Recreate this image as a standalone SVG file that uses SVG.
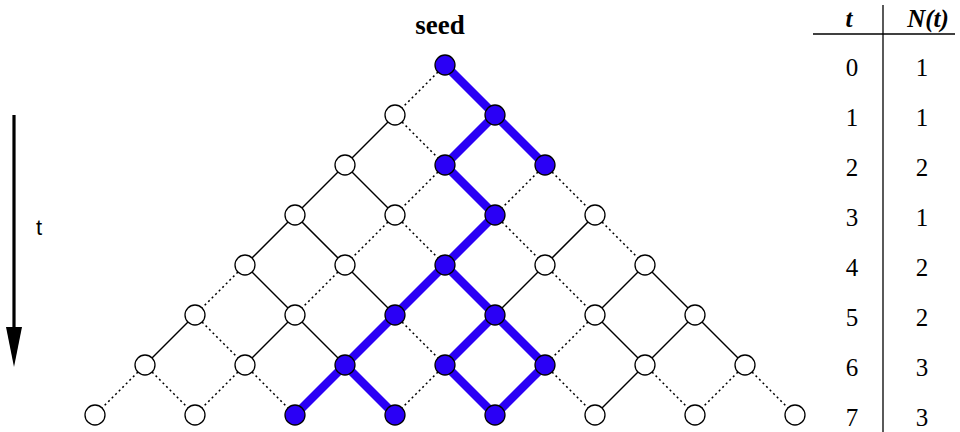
<svg xmlns="http://www.w3.org/2000/svg" width="960" height="432" viewBox="0 0 960 432">
<style>
.s{stroke:#000;stroke-width:1.5;fill:none}
.d{stroke:#000;stroke-width:1.5;stroke-dasharray:2,3;fill:none}
.b{stroke:#2a00f5;stroke-width:8.5;fill:none;stroke-linecap:round}
.w{fill:#fff;stroke:#000;stroke-width:1.3}
.f{fill:#2a00f5;stroke:#000;stroke-width:1.3}
.tx{font-family:"Liberation Serif",serif;font-size:25px;text-anchor:middle;fill:#000}
.hd{font-family:"Liberation Serif",serif;font-size:25px;font-weight:bold;font-style:italic;text-anchor:middle;fill:#000}
</style>
<rect width="960" height="432" fill="#fff"/>
<g id="connectors">
<line class="d" x1="445" y1="65" x2="395" y2="115"/>
<line class="b" x1="445" y1="65" x2="495" y2="115"/>
<line class="s" x1="395" y1="115" x2="345" y2="165"/>
<line class="d" x1="395" y1="115" x2="445" y2="165"/>
<line class="b" x1="495" y1="115" x2="445" y2="165"/>
<line class="b" x1="495" y1="115" x2="545" y2="165"/>
<line class="s" x1="345" y1="165" x2="295" y2="215"/>
<line class="s" x1="345" y1="165" x2="395" y2="215"/>
<line class="d" x1="445" y1="165" x2="395" y2="215"/>
<line class="b" x1="445" y1="165" x2="495" y2="215"/>
<line class="d" x1="545" y1="165" x2="495" y2="215"/>
<line class="d" x1="545" y1="165" x2="595" y2="215"/>
<line class="s" x1="295" y1="215" x2="245" y2="265"/>
<line class="s" x1="295" y1="215" x2="345" y2="265"/>
<line class="d" x1="395" y1="215" x2="345" y2="265"/>
<line class="d" x1="395" y1="215" x2="445" y2="265"/>
<line class="b" x1="495" y1="215" x2="445" y2="265"/>
<line class="d" x1="495" y1="215" x2="545" y2="265"/>
<line class="s" x1="595" y1="215" x2="545" y2="265"/>
<line class="d" x1="595" y1="215" x2="645" y2="265"/>
<line class="d" x1="245" y1="265" x2="195" y2="315"/>
<line class="s" x1="245" y1="265" x2="295" y2="315"/>
<line class="d" x1="345" y1="265" x2="295" y2="315"/>
<line class="s" x1="345" y1="265" x2="395" y2="315"/>
<line class="b" x1="445" y1="265" x2="395" y2="315"/>
<line class="b" x1="445" y1="265" x2="495" y2="315"/>
<line class="s" x1="545" y1="265" x2="495" y2="315"/>
<line class="d" x1="545" y1="265" x2="595" y2="315"/>
<line class="s" x1="645" y1="265" x2="595" y2="315"/>
<line class="s" x1="645" y1="265" x2="695" y2="315"/>
<line class="s" x1="195" y1="315" x2="145" y2="365"/>
<line class="d" x1="195" y1="315" x2="245" y2="365"/>
<line class="s" x1="295" y1="315" x2="245" y2="365"/>
<line class="s" x1="295" y1="315" x2="345" y2="365"/>
<line class="b" x1="395" y1="315" x2="345" y2="365"/>
<line class="d" x1="395" y1="315" x2="445" y2="365"/>
<line class="b" x1="495" y1="315" x2="445" y2="365"/>
<line class="b" x1="495" y1="315" x2="545" y2="365"/>
<line class="d" x1="595" y1="315" x2="545" y2="365"/>
<line class="s" x1="595" y1="315" x2="645" y2="365"/>
<line class="s" x1="695" y1="315" x2="645" y2="365"/>
<line class="s" x1="695" y1="315" x2="745" y2="365"/>
<line class="d" x1="145" y1="365" x2="95" y2="415"/>
<line class="d" x1="145" y1="365" x2="195" y2="415"/>
<line class="d" x1="245" y1="365" x2="195" y2="415"/>
<line class="d" x1="245" y1="365" x2="295" y2="415"/>
<line class="b" x1="345" y1="365" x2="295" y2="415"/>
<line class="b" x1="345" y1="365" x2="395" y2="415"/>
<line class="d" x1="445" y1="365" x2="395" y2="415"/>
<line class="b" x1="445" y1="365" x2="495" y2="415"/>
<line class="b" x1="545" y1="365" x2="495" y2="415"/>
<line class="d" x1="545" y1="365" x2="595" y2="415"/>
<line class="s" x1="645" y1="365" x2="595" y2="415"/>
<line class="d" x1="645" y1="365" x2="695" y2="415"/>
<line class="d" x1="745" y1="365" x2="695" y2="415"/>
<line class="d" x1="745" y1="365" x2="795" y2="415"/>
</g>
<g id="n0-0"><circle class="f" cx="445" cy="65" r="10"/></g>
<g id="n1-0"><circle class="w" cx="395" cy="115" r="10"/></g>
<g id="n1-1"><circle class="f" cx="495" cy="115" r="10"/></g>
<g id="n2-0"><circle class="w" cx="345" cy="165" r="10"/></g>
<g id="n2-1"><circle class="f" cx="445" cy="165" r="10"/></g>
<g id="n2-2"><circle class="f" cx="545" cy="165" r="10"/></g>
<g id="n3-0"><circle class="w" cx="295" cy="215" r="10"/></g>
<g id="n3-1"><circle class="w" cx="395" cy="215" r="10"/></g>
<g id="n3-2"><circle class="f" cx="495" cy="215" r="10"/></g>
<g id="n3-3"><circle class="w" cx="595" cy="215" r="10"/></g>
<g id="n4-0"><circle class="w" cx="245" cy="265" r="10"/></g>
<g id="n4-1"><circle class="w" cx="345" cy="265" r="10"/></g>
<g id="n4-2"><circle class="f" cx="445" cy="265" r="10"/></g>
<g id="n4-3"><circle class="w" cx="545" cy="265" r="10"/></g>
<g id="n4-4"><circle class="w" cx="645" cy="265" r="10"/></g>
<g id="n5-0"><circle class="w" cx="195" cy="315" r="10"/></g>
<g id="n5-1"><circle class="w" cx="295" cy="315" r="10"/></g>
<g id="n5-2"><circle class="f" cx="395" cy="315" r="10"/></g>
<g id="n5-3"><circle class="f" cx="495" cy="315" r="10"/></g>
<g id="n5-4"><circle class="w" cx="595" cy="315" r="10"/></g>
<g id="n5-5"><circle class="w" cx="695" cy="315" r="10"/></g>
<g id="n6-0"><circle class="w" cx="145" cy="365" r="10"/></g>
<g id="n6-1"><circle class="w" cx="245" cy="365" r="10"/></g>
<g id="n6-2"><circle class="f" cx="345" cy="365" r="10"/></g>
<g id="n6-3"><circle class="f" cx="445" cy="365" r="10"/></g>
<g id="n6-4"><circle class="f" cx="545" cy="365" r="10"/></g>
<g id="n6-5"><circle class="w" cx="645" cy="365" r="10"/></g>
<g id="n6-6"><circle class="w" cx="745" cy="365" r="10"/></g>
<g id="n7-0"><circle class="w" cx="95" cy="415" r="10"/></g>
<g id="n7-1"><circle class="w" cx="195" cy="415" r="10"/></g>
<g id="n7-2"><circle class="f" cx="295" cy="415" r="10"/></g>
<g id="n7-3"><circle class="f" cx="395" cy="415" r="10"/></g>
<g id="n7-4"><circle class="f" cx="495" cy="415" r="10"/></g>
<g id="n7-5"><circle class="w" cx="595" cy="415" r="10"/></g>
<g id="n7-6"><circle class="w" cx="695" cy="415" r="10"/></g>
<g id="n7-7"><circle class="w" cx="795" cy="415" r="10"/></g>
<g id="seed-label"><text x="440" y="34" font-family="'Liberation Serif',serif" font-size="27" font-weight="bold" text-anchor="middle">seed</text></g>
<g id="time-arrow">
<line x1="14" y1="115" x2="14" y2="330" stroke="#000" stroke-width="3.2"/>
<polygon points="6,327 22,327 14,367" fill="#000"/>
<text x="39" y="235" font-family="'Liberation Sans',sans-serif" font-size="22" text-anchor="middle">t</text>
</g>
<g id="table">
<line x1="813" y1="34" x2="955" y2="34" stroke="#000" stroke-width="1.3"/>
<line x1="883" y1="5" x2="883" y2="432" stroke="#000" stroke-width="1.3"/>
<text class="hd" x="849" y="27">t</text>
<text class="hd" x="928" y="27">N(t)</text>
<text class="tx" x="852" y="76">0</text><text class="tx" x="922" y="76">1</text>
<text class="tx" x="852" y="126">1</text><text class="tx" x="922" y="126">1</text>
<text class="tx" x="852" y="176">2</text><text class="tx" x="922" y="176">2</text>
<text class="tx" x="852" y="226">3</text><text class="tx" x="922" y="226">1</text>
<text class="tx" x="852" y="276">4</text><text class="tx" x="922" y="276">2</text>
<text class="tx" x="852" y="326">5</text><text class="tx" x="922" y="326">2</text>
<text class="tx" x="852" y="376">6</text><text class="tx" x="922" y="376">3</text>
<text class="tx" x="852" y="426">7</text><text class="tx" x="922" y="426">3</text>
</g>
</svg>
